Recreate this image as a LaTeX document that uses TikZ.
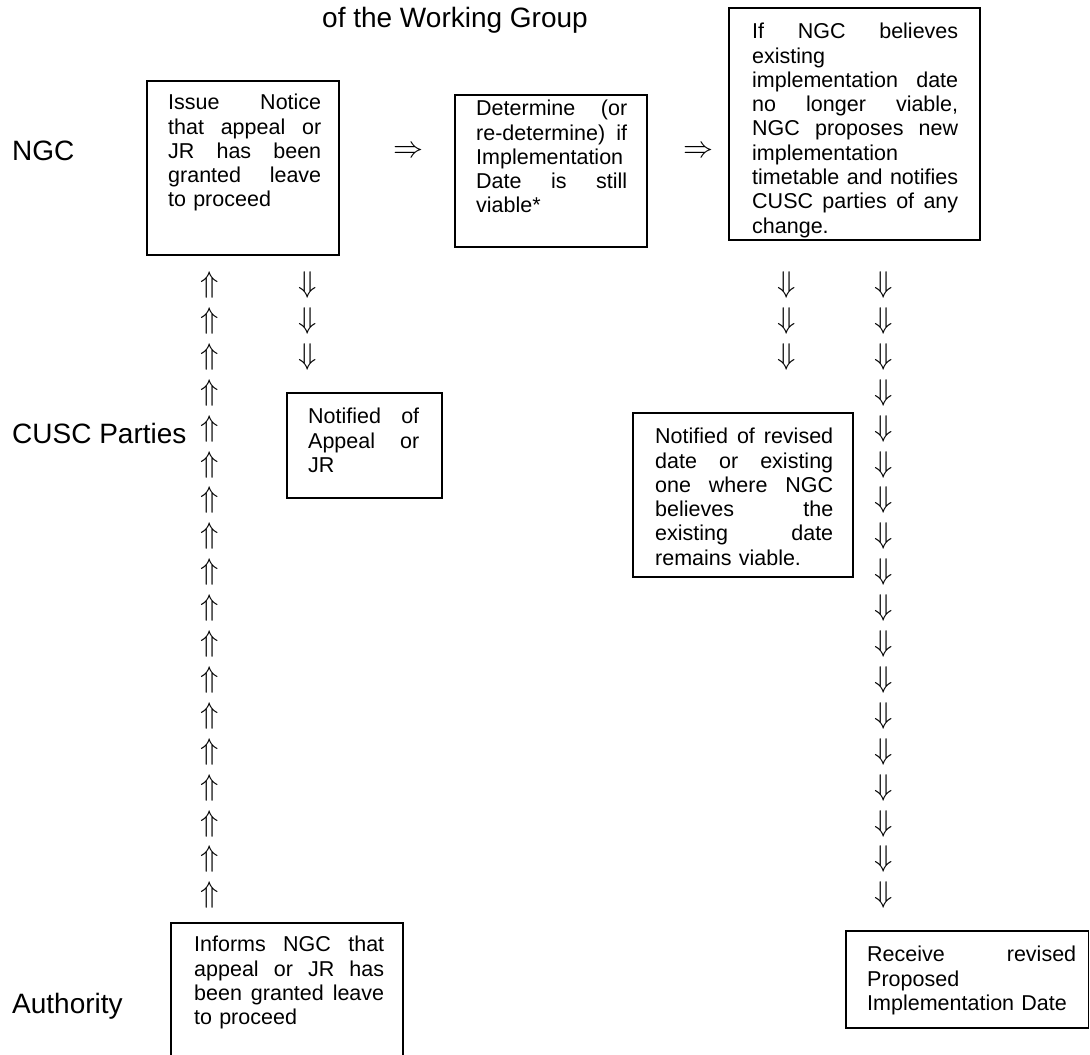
\documentclass[tikz,border=0pt]{standalone}
\usepackage{fix-cm}
\usepackage{fontspec}
\setmainfont{Liberation Sans}
\newlength\tw
\newcommand\jl[1]{{\spaceskip=0pt\xspaceskip=0pt\makebox[\tw][s]{#1}}}
\tikzset{
  boxline/.style={draw=black, line width=1.5pt},
  boxnode/.style={boxline, anchor=north west, inner sep=0pt, outer sep=0pt},
  txt/.style={anchor=north west, inner sep=0pt,
    font={\fontsize{21.5}{24.3}\selectfont\setlength{\parindent}{0pt}}},
  lbl/.style={anchor=base west, inner sep=0pt, font={\fontsize{28}{30}\selectfont}},
  arr/.style={inner sep=0pt, font={\fontsize{30}{30}\selectfont}},
}
\begin{document}
\begin{tikzpicture}[x=1pt,y=-1pt]
\useasboundingbox (0,0) rectangle (1090,1055);

% title fragment
\node[anchor=base east, inner sep=0pt, font={\fontsize{28}{30}\selectfont}] (title) at (588,27) {of the Working Group};

% row labels
\node[lbl] (lngc) at (12,160) {NGC};
\node[lbl] (lcusc) at (12,443) {CUSC Parties};
\node[lbl] (lauth) at (12,1013) {Authority};

% boxes
\node[boxnode, minimum width=192pt, minimum height=174pt] (b1) at (147,81) {};
\node[txt, text width=153pt] (t1) at (168,94)
  {\setlength\tw{153pt}\jl{Issue Notice}\\\jl{that appeal or}\\\jl{JR has been}\\\jl{granted leave}\\to proceed};

\node[boxnode, minimum width=192pt, minimum height=152pt] (b2) at (455,95) {};
\node[txt, text width=151pt] (t2) at (476,100)
  {\setlength\tw{151pt}\jl{Determine (or}\\\jl{re-determine) if}\\Implementation\\\jl{Date is still}\\viable*};

\node[boxnode, minimum width=251pt, minimum height=232pt] (b3) at (729,8) {};
\node[txt, text width=206pt] (t3) at (752,23)
  {\setlength\tw{206pt}\jl{If NGC believes}\\existing\\\jl{implementation date}\\\jl{no longer viable,}\\\jl{NGC proposes new}\\implementation\\\jl{timetable and notifies}\\\jl{CUSC parties of any}\\change.};

\node[boxnode, minimum width=155pt, minimum height=105pt] (b4) at (287,393) {};
\node[txt, text width=111pt] (t4) at (308,408)
  {\setlength\tw{111pt}\jl{Notified of}\\\jl{Appeal or}\\JR};

\node[boxnode, minimum width=220pt, minimum height=164pt] (b5) at (633,413) {};
\node[txt, text width=178pt] (t5) at (655,428)
  {\setlength\tw{178pt}\jl{Notified of revised}\\\jl{date or existing}\\\jl{one where NGC}\\\jl{believes the}\\\jl{existing date}\\remains viable.};

\draw[boxline] (171,1060) -- (171,923) -- (403,923) -- (403,1060);
\node[txt, text width=190pt] (t6) at (194,936)
  {\setlength\tw{190pt}\jl{Informs NGC that}\\\jl{appeal or JR has}\\\jl{been granted leave}\\to proceed};

\node[boxnode, minimum width=242.5pt, minimum height=97pt] (b7) at (846,931) {};
\node[txt, text width=209pt] (t7) at (867,946)
  {\setlength\tw{209pt}\jl{Receive revised}\\Proposed\\Implementation Date};

% arrow glyphs
\node[arr] (r1) at (408,152) {$\Rightarrow$};
\node[arr] (r2) at (698,152) {$\Rightarrow$};
\foreach \i in {0,...,17} {
  \node[arr] (up\i) at (210,285+35.9*\i) {$\Uparrow$};
  \node[arr] (dr\i) at (884,285+35.9*\i) {$\Downarrow$};
}
\foreach \i in {0,1,2} {
  \node[arr] (dl\i) at (308,285+36*\i) {$\Downarrow$};
  \node[arr] (dm\i) at (787,285+36*\i) {$\Downarrow$};
}
\end{tikzpicture}
\end{document}
